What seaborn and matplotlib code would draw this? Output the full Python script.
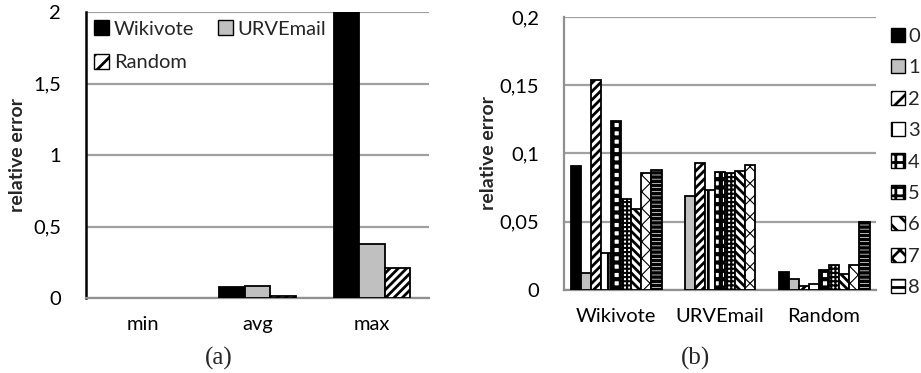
import matplotlib
matplotlib.use("Agg")
import matplotlib.pyplot as plt
import seaborn as sns
import pandas as pd
from matplotlib.patches import Patch
from matplotlib.ticker import FuncFormatter

# ---- data ----
stats = ["min", "avg", "max"]
datasets = ["Wikivote", "URVEmail", "Random"]
a_wikivote = [0.0, 0.08, 2.0]
a_urvemail = [0.0, 0.085, 0.375]
a_random = [0.0, 0.015, 0.21]

levels = ["0", "1", "2", "3", "4", "5", "6", "7", "8"]
b_wikivote = [0.0905, 0.0122, 0.1535, 0.0274, 0.124, 0.067, 0.0594, 0.086, 0.088]
b_urvemail = [0.0, 0.0685, 0.093, 0.0733, 0.0866, 0.086, 0.087, 0.0914, 0.0]
b_random = [0.013, 0.008, 0.003, 0.0044, 0.0144, 0.018, 0.012, 0.018, 0.050]

sns.set_theme(style="white")
plt.rcParams["font.family"] = ["Lato", "DejaVu Sans"]
plt.rcParams["hatch.linewidth"] = 2.0
plt.rcParams["hatch.color"] = "black"

fig = plt.figure(figsize=(9.21, 3.73), dpi=100)
axA = fig.add_axes([86/921, 1-298/373, (429-86)/921, (298-12)/373])
axB = fig.add_axes([564/921, 1-290/373, (876-564)/921, (290-17)/373])

comma = FuncFormatter(lambda v, p: ("%g" % v).replace(".", ","))
FS = 14.5

# ---- panel (a) ----
dfa = pd.DataFrame({
    "stat": stats * 3,
    "dataset": [datasets[0]] * 3 + [datasets[1]] * 3 + [datasets[2]] * 3,
    "value": a_wikivote + a_urvemail + a_random,
})
a_face = {"Wikivote": "black", "URVEmail": "#c0c0c0", "Random": "white"}
a_hatch = {"Wikivote": "", "URVEmail": "", "Random": "////"}
sns.barplot(data=dfa, x="stat", y="value", hue="dataset", order=stats,
            hue_order=datasets, ax=axA, width=0.67, legend=False, zorder=3)
for ds, cont in zip(datasets, axA.containers):
    for bar in cont:
        bar.set_facecolor(a_face[ds])
        bar.set_edgecolor("black")
        bar.set_hatch(a_hatch[ds])
        bar.set_linewidth(1.3 if bar.get_height() > 0 else 0)
axA.set_ylim(0, 2)
axA.set_xlim(-0.5, 2.5)
axA.set_yticks([0, 0.5, 1, 1.5, 2])
axA.yaxis.set_major_formatter(comma)

# ---- panel (b) ----
dfb = pd.DataFrame({
    "dataset": datasets * 9,
    "level": sum([[l] * 3 for l in levels], []),
    "value": sum([[b_wikivote[i], b_urvemail[i], b_random[i]] for i in range(9)], []),
})
b_face = ["black", "#c0c0c0"] + ["white"] * 7
b_hatch = ["", "", "////", "|", "++", "++++", "\\\\\\\\", "xx", "----"]
b_hlw = [2, 2, 2, 2, 3, 1.5, 2, 0.8, 2.5]
sns.barplot(data=dfb, x="dataset", y="value", hue="level", order=datasets,
            hue_order=levels, ax=axB, width=0.875, legend=False, zorder=3)
for i, cont in enumerate(axB.containers):
    for bar in cont:
        bar.set_facecolor(b_face[i])
        bar.set_edgecolor("black")
        bar.set_hatch(b_hatch[i])
        if hasattr(bar, "set_hatch_linewidth"):
            bar.set_hatch_linewidth(b_hlw[i])
        bar.set_linewidth(1.3 if bar.get_height() > 0 else 0)
axB.set_ylim(0, 0.2)
axB.set_xlim(-0.5, 2.5)
axB.set_yticks([0, 0.05, 0.1, 0.15, 0.2])
axB.yaxis.set_major_formatter(comma)

for ax in (axA, axB):
    ax.set_xlabel("")
    ax.set_ylabel("relative error", fontsize=14, fontweight="bold", labelpad=10)
    ax.grid(axis="y", color="#a0a0a0", linewidth=1.6, zorder=0)
    ax.set_axisbelow(True)
    for s in ("top", "right"):
        ax.spines[s].set_visible(False)
    ax.spines["bottom"].set_color("#909090")
    ax.spines["bottom"].set_linewidth(1.6)
    ax.tick_params(axis="y", labelsize=FS, length=7, width=1.6, pad=11,
                   direction="out", labelcolor="black")
    ax.tick_params(axis="x", labelsize=FS, length=0, pad=13, labelcolor="black")
    ax.set_xticks([0.0, 1.0, 2.0])
    ax.set_xticks([-0.5, 0.5, 1.5, 2.5], minor=True)
    ax.tick_params(axis="x", which="minor", length=5, width=1.6, color="#909090", direction="out")

axA.set_xticklabels(stats)
axB.set_xticklabels(datasets)
axA.spines["left"].set_color("black")
axA.spines["left"].set_linewidth(1.8)
axA.tick_params(axis="y", color="black")
axB.spines["left"].set_color("#909090")
axB.spines["left"].set_linewidth(1.6)
axB.tick_params(axis="y", color="#909090")
axA.yaxis.set_label_coords(-0.175, 0.5)
axB.yaxis.set_label_coords(-0.215, 0.5)

# legends
la = ["Wikivote", "Random", "URVEmail"]
handlesA = [Patch(facecolor=a_face[d], edgecolor="black", hatch=a_hatch[d].replace("////", "//"), label=d)
            for d in la]
axA.legend(handles=handlesA, loc="upper left", bbox_to_anchor=(-0.018, 1.02), ncol=2,
           frameon=False, fontsize=FS, handlelength=0.75, handleheight=0.75,
           handletextpad=0.25, columnspacing=1.15, labelspacing=0.8, borderaxespad=0.3)

handlesB = [Patch(facecolor=b_face[i], edgecolor="black", hatch=b_hatch[i][:2], label=levels[i])
            for i in range(9)]
fig.legend(handles=handlesB, loc="center left", bbox_to_anchor=(891/921, 1-162/373),
           frameon=False, fontsize=FS, handlelength=0.7, handleheight=0.7,
           handletextpad=0.15, labelspacing=0.71, borderaxespad=0, borderpad=0)

fig.text(219/921, 1-358/373, "(a)", ha="center", va="center", fontsize=18,
         family="Liberation Serif")
fig.text(695/921, 1-358/373, "(b)", ha="center", va="center", fontsize=18,
         family="Liberation Serif")

fig.savefig("out.png", dpi=100)
